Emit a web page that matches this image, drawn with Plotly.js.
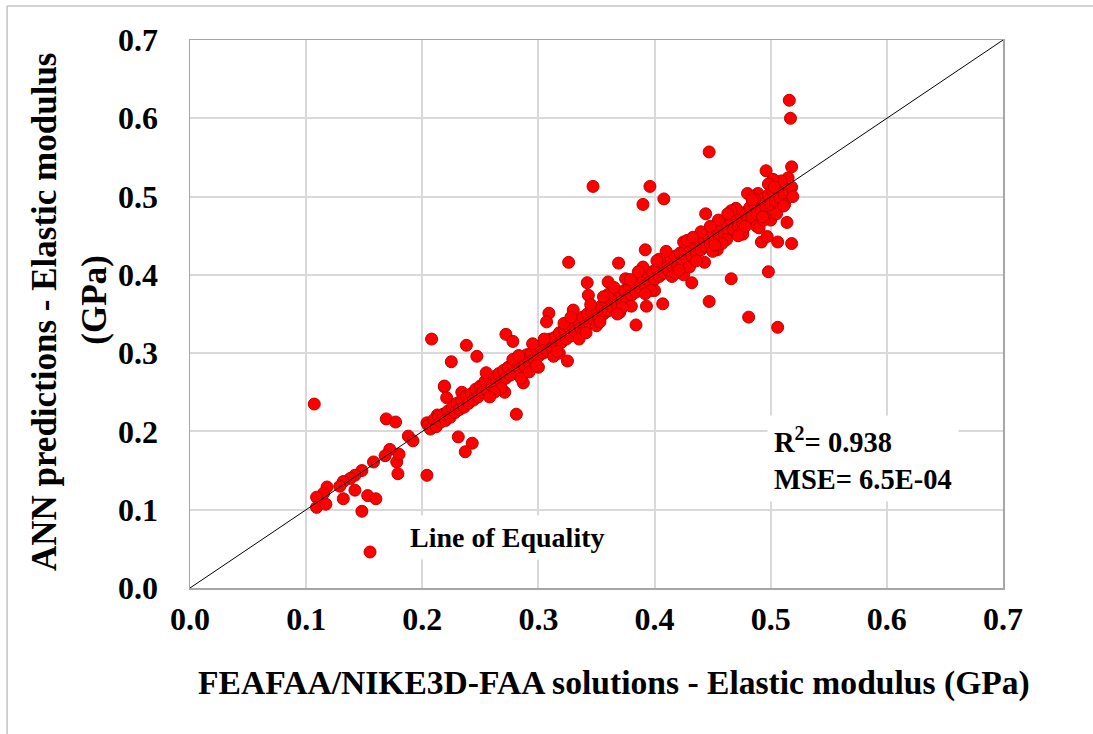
<!DOCTYPE html>
<html>
<head>
<meta charset="utf-8">
<script src="https://cdn.plot.ly/plotly-3.0.1.min.js"></script>
<style>html,body{margin:0;padding:0;background:#fff;}#chart{width:1093px;height:734px;}</style>
</head>
<body>
<div id="chart"></div>
<script>
// FEAFAA/NIKE3D-FAA solutions (x) vs ANN predictions (y), GPa
const feaX = [
0.107,0.155,0.169,0.177,0.188,0.192,0.178,0.179,0.180,0.172,0.168,0.158,0.148,0.142,0.138,0.132,0.129,0.118,0.115,0.109,0.109,0.117,0.142,0.132,0.153,0.160,0.148,0.204,0.204,0.209,0.213,0.219,0.221,
0.208,0.225,0.238,0.247,0.272,0.278,0.309,0.307,0.281,0.231,0.243,0.237,0.219,0.234,0.287,0.271,
0.326,0.347,0.396,0.390,0.408,0.392,0.369,0.325,0.384,0.393,0.407,0.342,0.343,0.360,
0.516,0.517,0.447,0.496,0.518,0.444,0.480,0.489,0.492,0.497,0.506,0.518,0.514,0.498,0.466,0.447,0.481,0.506,0.432,0.425,0.443,0.454,0.476,
0.205,0.207,0.210,0.212,0.214,0.216,0.218,0.220,0.222,0.224,0.226,0.228,0.230,0.232,0.234,0.236,0.238,0.240,0.242,0.244,0.246,0.248,0.250,0.252,0.254,0.256,0.258,0.260,0.262,0.264,0.266,0.268,0.270,0.272,0.274,0.276,0.278,0.280,0.282,0.284,0.286,0.288,0.290,0.292,0.294,0.296,0.298,0.300,0.302,0.304,0.306,0.308,0.310,0.312,0.314,0.316,0.318,0.320,0.322,0.324,0.326,0.328,0.330,0.332,0.334,0.336,0.338,0.340,0.342,0.344,0.346,0.348,0.350,0.352,0.354,0.356,0.358,0.360,0.362,0.364,0.366,0.368,0.370,0.372,0.374,0.376,0.378,0.380,0.382,0.384,0.386,0.388,0.390,0.392,0.394,0.396,0.398,0.400,0.402,0.404,0.406,0.408,0.410,0.412,0.414,0.416,0.418,0.420,0.422,0.424,0.426,0.428,0.430,0.432,0.434,0.436,0.438,0.440,0.442,0.444,0.446,0.448,0.450,0.452,0.454,0.456,0.458,0.460,0.462,0.464,0.466,0.468,0.470,0.472,0.474,0.476,0.478,0.480,0.482,0.484,0.486,0.488,0.490,0.492,0.494,0.496,0.498,0.500,0.502,0.504,0.506,0.508,0.510,0.512,0.514,0.516,0.518,
0.515,0.509,0.500,0.505,0.495,0.488,0.502,0.498,0.512,0.519,
0.255,0.268,0.285,0.295,0.300,0.318,0.330,0.338,0.350,0.360,0.370,0.375,0.380,0.390,0.400,0.410,0.415,0.425,0.430,0.440,0.450,0.455,0.462,0.470,0.475,0.485,0.490,
0.262,0.278,0.292,0.305,0.313,0.322,0.335,0.345,0.353,0.365,0.372,0.386,0.397,0.404,0.418,0.428,0.436,0.448,0.458,0.466,0.478,0.486,0.494,0.503,0.511,
0.258,0.283,0.298,0.316,0.328,0.341,0.356,0.368,0.379,0.392,0.402,0.421,0.433,0.452,0.463,0.472,0.484,0.493
];
const annY = [
0.235,0.046,0.216,0.212,0.194,0.188,0.161,0.146,0.171,0.177,0.169,0.161,0.150,0.144,0.140,0.136,0.130,0.129,0.121,0.116,0.103,0.107,0.125,0.114,0.118,0.114,0.098,0.144,0.211,0.212,0.221,0.257,0.243,
0.318,0.289,0.310,0.296,0.324,0.315,0.351,0.340,0.222,0.193,0.185,0.174,0.258,0.250,0.262,0.250,
0.416,0.513,0.513,0.490,0.497,0.432,0.415,0.290,0.336,0.360,0.363,0.390,0.374,0.391,
0.623,0.600,0.557,0.533,0.538,0.478,0.504,0.504,0.442,0.449,0.442,0.440,0.467,0.404,0.395,0.366,0.346,0.333,0.390,0.400,0.416,0.432,0.452,
0.208,0.203,0.215,0.206,0.219,0.212,0.222,0.214,0.226,0.218,0.231,0.224,0.236,0.228,0.240,0.231,0.245,0.236,0.248,0.240,0.254,0.244,0.258,0.250,0.264,0.252,0.268,0.258,0.270,0.262,0.274,0.264,0.278,0.268,0.282,0.272,0.286,0.276,0.290,0.280,0.294,0.284,0.298,0.288,0.300,0.292,0.306,0.296,0.308,0.300,0.312,0.302,0.318,0.306,0.320,0.310,0.326,0.314,0.330,0.318,0.334,0.322,0.338,0.328,0.342,0.332,0.346,0.334,0.350,0.338,0.352,0.342,0.356,0.346,0.360,0.350,0.366,0.354,0.368,0.358,0.372,0.362,0.378,0.366,0.380,0.370,0.386,0.374,0.390,0.378,0.392,0.382,0.396,0.386,0.402,0.390,0.404,0.394,0.408,0.398,0.414,0.402,0.416,0.406,0.420,0.410,0.424,0.412,0.428,0.418,0.432,0.420,0.436,0.424,0.440,0.428,0.444,0.432,0.446,0.436,0.450,0.440,0.454,0.444,0.458,0.448,0.462,0.452,0.466,0.456,0.470,0.458,0.474,0.462,0.478,0.466,0.480,0.470,0.486,0.474,0.490,0.478,0.494,0.482,0.498,0.486,0.502,0.490,0.506,0.494,0.510,0.498,0.514,0.502,0.518,0.506,0.512,
0.524,0.520,0.470,0.478,0.474,0.462,0.522,0.516,0.490,0.500,
0.275,0.255,0.268,0.312,0.282,0.300,0.355,0.325,0.335,0.375,0.352,0.395,0.360,0.410,0.380,0.430,0.398,0.442,0.410,0.455,0.430,0.470,0.445,0.485,0.455,0.500,0.460,
0.250,0.292,0.276,0.318,0.296,0.338,0.318,0.362,0.340,0.384,0.358,0.404,0.380,0.420,0.402,0.444,0.418,0.462,0.440,0.482,0.462,0.497,0.470,0.512,0.488,
0.244,0.297,0.284,0.302,0.346,0.326,0.372,0.350,0.394,0.376,0.418,0.406,0.448,0.438,0.478,0.450,0.496,0.474
];
const equalityLine = [0, 0.7];
const tickVals = [0, 0.1, 0.2, 0.3, 0.4, 0.5, 0.6, 0.7];
const tickText = ['0.0', '0.1', '0.2', '0.3', '0.4', '0.5', '0.6', '0.7'];

const serif = 'Times New Roman, Liberation Serif, serif';

const traces = [
  {
    x: feaX, y: annY, type: 'scatter', mode: 'markers',
    marker: {color: '#ff0000', size: 12, line: {color: '#c00000', width: 1}},
    showlegend: false, hoverinfo: 'x+y'
  },
  {
    x: equalityLine, y: equalityLine, type: 'scatter', mode: 'lines',
    line: {color: '#000000', width: 1}, showlegend: false, hoverinfo: 'skip'
  }
];

const axisCommon = {
  range: [0, 0.7], tickvals: tickVals, ticktext: tickText,
  showgrid: true, gridcolor: '#d9d9d9', gridwidth: 2,
  zeroline: false, showline: true, linecolor: '#a6a6a6', linewidth: 1.5, mirror: true,
  ticks: '', tickfont: {family: serif, size: 32, color: '#000000', weight: 'bold'},
  fixedrange: true
};

const layout = {
  width: 1093, height: 734,
  font: {family: serif, color: '#000000'},
  margin: {l: 190, r: 90, t: 40, b: 146},
  paper_bgcolor: '#ffffff', plot_bgcolor: '#ffffff',
  xaxis: Object.assign({}, axisCommon, {ticklabelstandoff: 2}),
  yaxis: Object.assign({}, axisCommon, {ticklabelstandoff: 24}),
  shapes: [
    {type: 'line', xref: 'paper', yref: 'paper', x0: -0.225, x1: -0.225, y0: -0.3, y1: 1.062, line: {color: '#a6a6a6', width: 1}},
    {type: 'line', xref: 'paper', yref: 'paper', x0: -0.225, x1: 1.2, y0: 1.062, y1: 1.062, line: {color: '#a6a6a6', width: 1}}
  ],
  annotations: [
    {xref: 'paper', yref: 'paper', x: 0.522, y: -0.173, xanchor: 'center', yanchor: 'middle', showarrow: false,
     text: 'FEAFAA/NIKE3D-FAA solutions - Elastic modulus (GPa)', font: {family: serif, size: 33.6, color: '#000', weight: 'bold'}},
    {xref: 'paper', yref: 'paper', x: -0.178, y: 0.504, xanchor: 'center', yanchor: 'middle', showarrow: false, textangle: -90,
     text: 'ANN predictions - Elastic modulus', font: {family: serif, size: 35, color: '#000', weight: 'bold'}},
    {xref: 'paper', yref: 'paper', x: -0.117, y: 0.526, xanchor: 'center', yanchor: 'middle', showarrow: false, textangle: -90,
     text: '(GPa)', font: {family: serif, size: 35, color: '#000', weight: 'bold'}},
    {xref: 'x', yref: 'y', x: 0.273, y: 0.065, xanchor: 'center', yanchor: 'middle', showarrow: false,
     bgcolor: '#ffffff', borderpad: 6,
     text: 'Line of Equality', font: {family: serif, size: 28, color: '#000', weight: 'bold'}},
    {xref: 'x', yref: 'y', x: 0.497, y: 0.165, xanchor: 'left', yanchor: 'middle', showarrow: false,
     bgcolor: '#ffffff', borderpad: 6, align: 'left',
     text: 'R<sup>2</sup>= 0.938<br>MSE= 6.5E-04', font: {family: serif, size: 28.5, color: '#000', weight: 'bold'}}
  ]
};

Plotly.newPlot('chart', traces, layout, {displayModeBar: false, staticPlot: true});
</script>
</body>
</html>
